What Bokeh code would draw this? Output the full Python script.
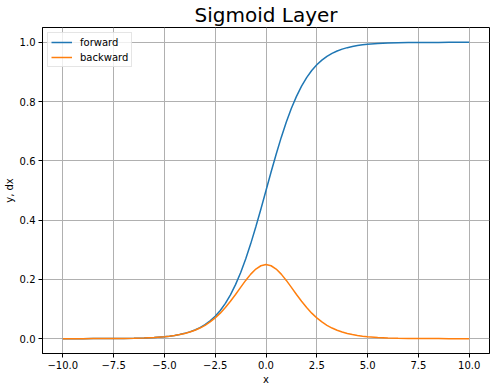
from bokeh.plotting import figure
from bokeh.models import FixedTicker, Legend, LegendItem, Range1d
from bokeh.embed import file_html
from bokeh.resources import INLINE

x_values = [-10, -9.5, -9, -8.5, -8, -7.5, -7, -6.5, -6, -5.5, -5,
            -4.75, -4.5, -4.25, -4, -3.75, -3.5, -3.25, -3, -2.75, -2.5,
            -2.25, -2, -1.75, -1.5, -1.25, -1, -0.75, -0.5, -0.25, 0,
            0.25, 0.5, 0.75, 1, 1.25, 1.5, 1.75, 2, 2.25, 2.5, 2.75, 3,
            3.25, 3.5, 3.75, 4, 4.25, 4.5, 4.75,
            5, 5.5, 6, 6.5, 7, 7.5, 8, 8.5, 9, 9.5, 10]

forward = [0.0000, 0.0001, 0.0001, 0.0002, 0.0003, 0.0006, 0.0009, 0.0015, 0.0025, 0.0041, 0.0067,
           0.0086, 0.0110, 0.0141, 0.0180, 0.0230, 0.0293, 0.0373, 0.0474, 0.0601, 0.0759,
           0.0953, 0.1192, 0.1480, 0.1824, 0.2227, 0.2689, 0.3208, 0.3775, 0.4378, 0.5000,
           0.5622, 0.6225, 0.6792, 0.7311, 0.7773, 0.8176, 0.8520, 0.8808, 0.9047, 0.9241, 0.9399, 0.9526,
           0.9627, 0.9707, 0.9770, 0.9820, 0.9859, 0.9890, 0.9914,
           0.9933, 0.9959, 0.9975, 0.9985, 0.9991, 0.9994, 0.9997, 0.9998, 0.9999, 0.9999, 1.0000]

backward = [0.0000, 0.0001, 0.0001, 0.0002, 0.0003, 0.0006, 0.0009, 0.0015, 0.0025, 0.0041, 0.0066,
            0.0085, 0.0109, 0.0139, 0.0177, 0.0225, 0.0284, 0.0359, 0.0452, 0.0565, 0.0701,
            0.0862, 0.1050, 0.1261, 0.1491, 0.1731, 0.1966, 0.2179, 0.2350, 0.2461, 0.2500,
            0.2461, 0.2350, 0.2179, 0.1966, 0.1731, 0.1491, 0.1261, 0.1050, 0.0862, 0.0701, 0.0565, 0.0452,
            0.0359, 0.0284, 0.0225, 0.0177, 0.0139, 0.0109, 0.0085,
            0.0066, 0.0041, 0.0025, 0.0015, 0.0009, 0.0006, 0.0003, 0.0002, 0.0001, 0.0001, 0.0000]

series_names = ["forward", "backward"]
series_colors = ["#1f77b4", "#ff7f0e"]

x_ticks = [-10.0, -7.5, -5.0, -2.5, 0.0, 2.5, 5.0, 7.5, 10.0]
x_tick_labels = ["\u221210.0", "\u22127.5", "\u22125.0", "\u22122.5", "0.0", "2.5", "5.0", "7.5", "10.0"]
y_ticks = [0.0, 0.2, 0.4, 0.6, 0.8, 1.0]
y_tick_labels = ["0.0", "0.2", "0.4", "0.6", "0.8", "1.0"]

FONT = "DejaVu Sans"

p = figure(frame_width=447, frame_height=326,
           x_range=Range1d(-11, 11), y_range=Range1d(-0.05, 1.05),
           output_backend="svg", toolbar_location=None,
           min_border_left=36, min_border_right=5, min_border_top=0, min_border_bottom=30,
           title="Sigmoid Layer")

p.background_fill_color = "white"
p.border_fill_color = "white"
p.outline_line_color = "black"
p.outline_line_width = 1

p.title.text_font = FONT
p.title.text_font_size = "20px"
p.title.text_font_style = "normal"
p.title.align = "center"
p.title.text_color = "black"
p.title.standoff = 1

r1 = p.line(x_values, forward, line_color=series_colors[0], line_width=1.5)
r2 = p.line(x_values, backward, line_color=series_colors[1], line_width=1.5)

p.xaxis.ticker = FixedTicker(ticks=x_ticks)
p.xaxis.major_label_overrides = dict(zip(x_ticks, x_tick_labels))
p.yaxis.ticker = FixedTicker(ticks=y_ticks)
p.yaxis.major_label_overrides = dict(zip(y_ticks, y_tick_labels))

p.xaxis.axis_label = "x"
p.yaxis.axis_label = "y, dx"

for ax in (p.xaxis, p.yaxis):
    ax.axis_label_text_font = FONT
    ax.axis_label_text_font_size = "10px"
    ax.axis_label_text_font_style = "normal"
    ax.axis_label_text_color = "black"
    ax.major_label_text_font = FONT
    ax.major_label_text_font_size = "10px"
    ax.major_label_text_color = "black"
    ax.major_tick_out = 4
    ax.major_tick_in = 0
    ax.minor_tick_line_color = None
    ax.major_tick_line_color = "black"
    ax.axis_line_color = "black"
    ax.major_label_standoff = 3
    ax.axis_label_standoff = 2

p.yaxis.major_label_orientation = "horizontal"

p.xgrid.ticker = FixedTicker(ticks=x_ticks)
p.ygrid.ticker = FixedTicker(ticks=y_ticks)
for g in (p.xgrid, p.ygrid):
    g.grid_line_color = "#b0b0b0"
    g.grid_line_width = 1

legend = Legend(items=[LegendItem(label=series_names[0], renderers=[r1]),
                       LegendItem(label=series_names[1], renderers=[r2])],
                location="top_left")
legend.label_text_font = FONT
legend.label_text_font_size = "10px"
legend.label_text_color = "black"
legend.glyph_width = 21
legend.glyph_height = 12
legend.label_height = 12
legend.label_standoff = 8
legend.spacing = 3
legend.padding = 3
legend.margin = 5
legend.border_line_color = "#cccccc"
legend.border_line_width = 1
legend.background_fill_alpha = 0.8
p.add_layout(legend)

open("out.html", "w").write(file_html(p, INLINE))
